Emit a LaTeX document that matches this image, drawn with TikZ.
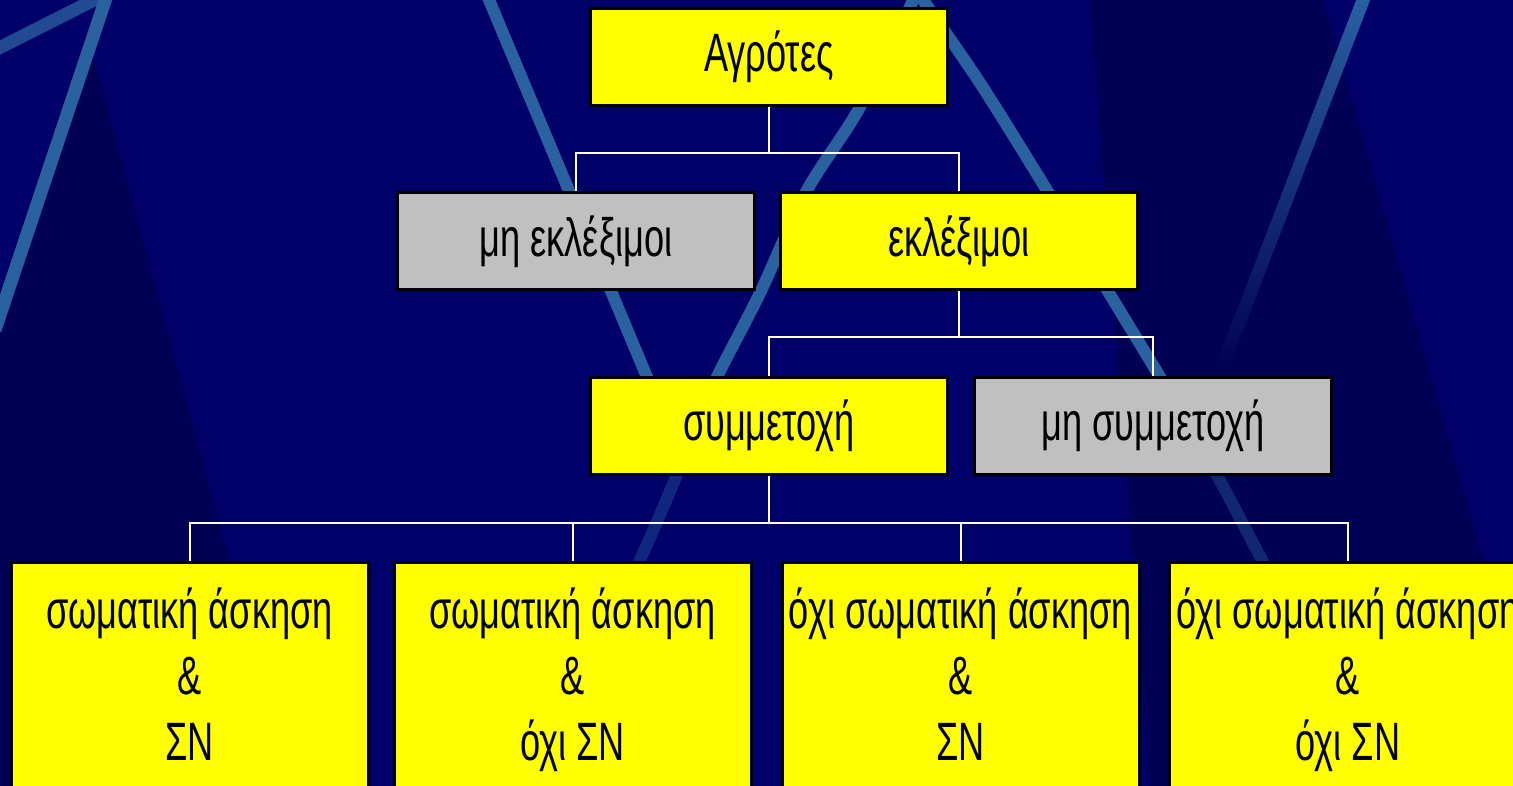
\documentclass[tikz,border=0pt]{standalone}
\usepackage{fontspec}
\usetikzlibrary{fadings}
\setmainfont{Liberation Sans}[FakeStretch=0.67]
\definecolor{bg}{RGB}{0,0,105}
\definecolor{bgdark}{RGB}{0,0,84}
\definecolor{stripe}{RGB}{42,98,160}
\definecolor{boxyellow}{RGB}{255,255,0}
\definecolor{boxgrey}{RGB}{192,192,192}
\tikzset{
  box/.style={draw=black, line width=3pt, fill=boxyellow, minimum width=357pt,
    minimum height=97pt, inner sep=0pt, font=\fontsize{54}{66}\selectfont,
    text=black, align=center},
  greybox/.style={box, fill=boxgrey},
  bigbox/.style={box, minimum height=238pt},
  link/.style={draw=white, line width=2pt},
  band/.style={draw=stripe, line width=12pt},
}
\begin{document}
\begin{tikzpicture}[x=1pt,y=-1pt]
\useasboundingbox (0,0) rectangle (1513,786);
\clip (0,0) rectangle (1513,786);
% background
\fill[bg] (0,0) rectangle (1513,786);
\fill[bgdark] (97,40) -- (0,330) -- (0,786) -- (290,786) -- (93,55) -- cycle;
\fill[bgdark] (1090,0) -- (1323,0) -- (1548,786) -- (1150,786) -- cycle;
% stripes
\draw[band, draw=stripe!75!bg, line width=13pt] (-5,50) -- (100,-3);
\draw[band, line width=13pt] (107,-5) -- (-5,330);
\draw[band] (487,-5) -- (665,420);
\draw[band] plot[smooth] coordinates {(918,-10) (860,107) (806,192) (760,293) (717,377) (690,440)};
\draw[band, draw opacity=0.4] plot[smooth] coordinates {(690,440) (676,477) (640,560) (600,640)};
\draw[band] plot[smooth] coordinates {(916,-10) (980,83) (1048,192) (1109,293) (1160,377) (1185,420)};
\draw[band, draw opacity=0.4] plot[smooth] coordinates {(1185,420) (1218,477) (1262,560) (1300,630)};
\fill[stripe, path fading=south] (1358,-5) -- (1372,-5) -- (1226,375) -- (1212,375) -- cycle;
% nodes
\node[box] (agro) at (769,57) {Αγρότες};
\node[greybox] (mhekl) at (576,241.5) {μη εκλέξιμοι};
\node[box] (ekl) at (959,241.5) {εκλέξιμοι};
\node[box] (symm) at (769,425.5) {συμμετοχή};
\node[greybox] (mhsymm) at (1153,425.5) {μη συμμετοχή};
\node[bigbox] (b1) at (189.5,681) {σωματική άσκηση\strut\\\&\strut\\ΣΝ\strut};
\node[bigbox] (b2) at (572.5,681) {σωματική άσκηση\strut\\\&\strut\\όχι ΣΝ\strut};
\node[bigbox] (b3) at (960.5,681) {όχι σωματική άσκηση\strut\\\&\strut\\ΣΝ\strut};
\node[bigbox] (b4) at (1348,681) {όχι σωματική άσκηση\strut\\\&\strut\\όχι ΣΝ\strut};
% connectors
\draw[link] (agro.south) -- ++(0,46) coordinate (j1);
\draw[link] (mhekl.north) |- (j1) -| (ekl.north);
\draw[link] (ekl.south) -- ++(0,46) coordinate (j2);
\draw[link] (symm.north) |- (j2) -| (mhsymm.north);
\draw[link] (symm.south) -- ++(0,47) coordinate (j3);
\draw[link] (b1.north) |- (j3) -| (b4.north);
\draw[link] (b2.north) |- (j3);
\draw[link] (b3.north) |- (j3);
\end{tikzpicture}
\end{document}
